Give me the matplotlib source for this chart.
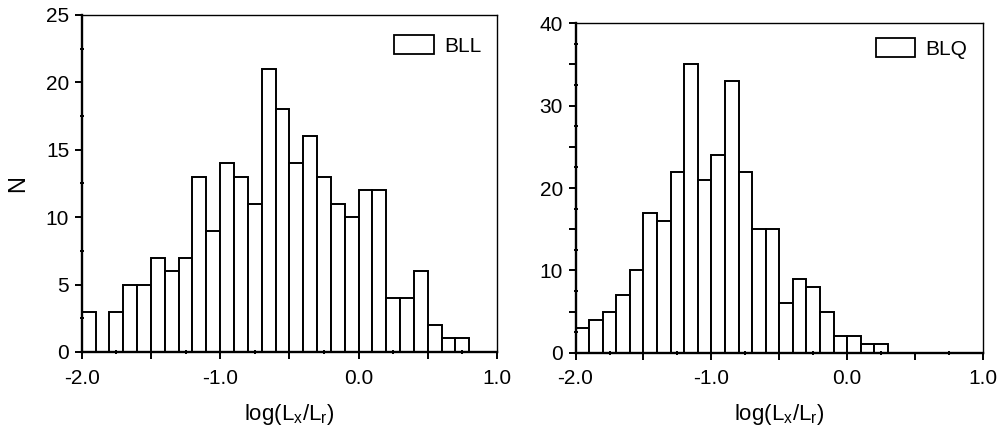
#!/usr/bin/env python3
"""Histograms of log(Lx/Lr) for the BLL and BLQ samples, side by side."""
import numpy as np
import matplotlib
matplotlib.use("Agg")
import matplotlib.pyplot as plt
from matplotlib.patches import Patch
from matplotlib.ticker import MultipleLocator, FuncFormatter

plt.rcParams["font.family"] = ["Liberation Sans", "DejaVu Sans"]
plt.rcParams["axes.unicode_minus"] = False
plt.rcParams["mathtext.default"] = "regular"

BIN_START = -2.0
BIN_WIDTH = 0.1

# counts per 0.1-dex bin, starting at -2.0
BLL_COUNTS = [3, 0, 3, 5, 5, 7, 6, 7, 13, 9, 14, 13, 11, 21, 18,
              14, 16, 13, 11, 10, 12, 12, 4, 4, 6, 2, 1, 1]
BLQ_COUNTS = [3, 4, 5, 7, 10, 17, 16, 22, 35, 21, 24, 33, 22, 15, 15,
              6, 9, 8, 5, 2, 2, 1, 1]

BLL_YMAX, BLL_YLABEL_STEP = 25, 5
BLQ_YMAX, BLQ_YLABEL_STEP = 40, 10

FS = 15


def draw_hist(ax, counts, label, ymax, ystep, leg_anchor):
    counts = np.asarray(counts, dtype=float)
    left = BIN_START + BIN_WIDTH * np.arange(len(counts))
    ax.bar(left, counts, width=BIN_WIDTH, align="edge",
           color="white", edgecolor="black", linewidth=1.4)

    ax.set_xlim(-2.0, 1.0)
    ax.set_ylim(0, ymax)

    # major ticks every 0.5 / 5 units, labels only on the coarser grid
    ax.xaxis.set_major_locator(MultipleLocator(0.5))
    ax.xaxis.set_minor_locator(MultipleLocator(0.25))
    ax.xaxis.set_major_formatter(FuncFormatter(
        lambda v, p: f"{v:.1f}" if abs(v - round(v)) < 1e-6 else ""))
    ax.yaxis.set_major_locator(MultipleLocator(5))
    ax.yaxis.set_minor_locator(MultipleLocator(2.5))
    ax.yaxis.set_major_formatter(FuncFormatter(
        lambda v, p: f"{v:.0f}" if round(v) % ystep == 0 else ""))

    ax.tick_params(which="major", direction="out", length=5, width=1.4,
                   labelsize=FS, pad=4)
    ax.tick_params(axis="x", which="major", pad=7)
    ax.tick_params(which="minor", direction="inout", length=3, width=1.4)

    for sp in ("left", "bottom"):
        ax.spines[sp].set_linewidth(1.7)
    for sp in ("top", "right"):
        ax.spines[sp].set_linewidth(1.0)

    ax.set_xlabel(r"log(L$_\mathregular{x}$/L$_\mathregular{r}$)",
                  fontsize=FS + 1, labelpad=10)

    handles = [Patch(facecolor="white", edgecolor="black", linewidth=1.3,
                     label=label)]
    ax.legend(handles=handles, loc="upper right", bbox_to_anchor=leg_anchor,
              frameon=False, fontsize=FS, handlelength=1.9,
              handleheight=1.0, handletextpad=0.5, borderaxespad=0.0,
              borderpad=0.0)


def main():
    fig = plt.figure(figsize=(9.98, 4.34), dpi=100)
    ax1 = fig.add_axes([0.0819, 0.189, 0.4161, 0.7765])
    ax2 = fig.add_axes([0.5767, 0.1873, 0.4083, 0.759])

    draw_hist(ax1, BLL_COUNTS, "BLL", BLL_YMAX, BLL_YLABEL_STEP,
              (0.962, 0.94))
    draw_hist(ax2, BLQ_COUNTS, "BLQ", BLQ_YMAX, BLQ_YLABEL_STEP,
              (0.962, 0.955))

    ax1.set_ylabel("N", fontsize=FS + 2, labelpad=12)

    fig.savefig("out.png", dpi=100, facecolor="white")
    plt.close(fig)


if __name__ == "__main__":
    main()
